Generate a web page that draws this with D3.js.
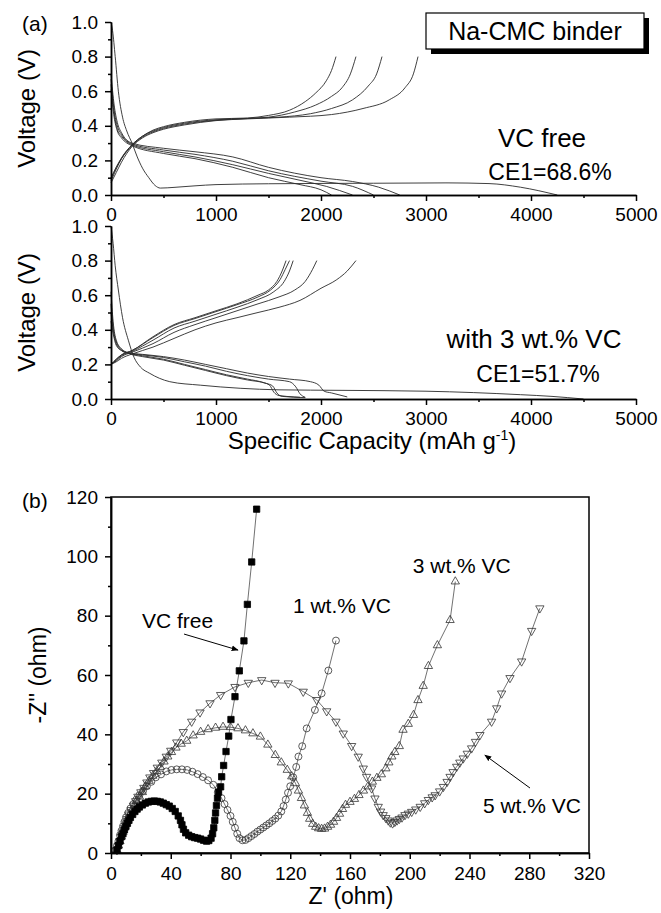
<!DOCTYPE html>
<html>
<head>
<meta charset="utf-8">
<script src="https://cdn.jsdelivr.net/npm/d3@7"></script>
<style>
  body { margin: 0; background: #fff; }
  svg text { font-family: 'Liberation Sans', Arial, sans-serif; fill: #000; }
</style>
</head>
<body>
<svg id="chart" width="661" height="913"></svg>
<script>
// ---- tick values ----
const capacityTicks = [0, 1000, 2000, 3000, 4000, 5000];
const capacityMinor = [500, 1500, 2500, 3500, 4500];
const voltageTicks = [0, 0.2, 0.4, 0.6, 0.8, 1.0];
const voltageMinor = [0.1, 0.3, 0.5, 0.7, 0.9];
const zReTicks = [0, 40, 80, 120, 160, 200, 240, 280, 320];
const zReMinor = [20, 60, 100, 140, 180, 220, 260, 300];
const zImTicks = [0, 20, 40, 60, 80, 100, 120];
const zImMinor = [10, 30, 50, 70, 90, 110];

// ---- (a) top: VC free, [capacity mAh/g, voltage V] ----
const vcFreeFirstDischarge = [[0, 1.0], [15, 0.95], [40, 0.8], [70, 0.6], [110, 0.45], [150, 0.37], [200, 0.3], [250, 0.22], [300, 0.155], [360, 0.1], [420, 0.055], [470, 0.04], [600, 0.044], [800, 0.053], [1000, 0.06], [1500, 0.065], [2500, 0.068], [3200, 0.07], [3600, 0.066], [3900, 0.045], [4250, 0.0]];
const vcFreeDischarges = [
  [[0, 0.7], [30, 0.52], [60, 0.42], [100, 0.36], [200, 0.3], [500, 0.27], [800, 0.25], [1160, 0.22], [1500, 0.16], [2000, 0.1], [2300, 0.078], [2550, 0.045], [2750, 0.0]],
  [[0, 0.67], [30, 0.49], [60, 0.4], [100, 0.35], [200, 0.295], [500, 0.26], [800, 0.235], [1160, 0.195], [1500, 0.14], [2000, 0.08], [2300, 0.05], [2500, 0.0]],
  [[0, 0.64], [30, 0.47], [60, 0.38], [100, 0.34], [200, 0.29], [500, 0.25], [800, 0.22], [1160, 0.175], [1500, 0.125], [1800, 0.085], [2050, 0.05], [2300, 0.0]],
  [[0, 0.61], [30, 0.45], [60, 0.37], [100, 0.33], [200, 0.285], [500, 0.24], [800, 0.21], [1160, 0.16], [1500, 0.1], [1800, 0.06], [2000, 0.03], [2100, 0.0]],
];
const vcFreeCharges = [
  [[0, 0.08], [50, 0.15], [100, 0.21], [200, 0.29], [300, 0.34], [400, 0.375], [500, 0.395], [700, 0.42], [1000, 0.44], [1300, 0.445], [1500, 0.46], [1700, 0.49], [1850, 0.54], [1950, 0.59], [2050, 0.66], [2100, 0.72], [2143, 0.8]],
  [[0, 0.09], [50, 0.16], [100, 0.215], [200, 0.29], [300, 0.34], [400, 0.37], [500, 0.39], [700, 0.415], [1000, 0.435], [1300, 0.443], [1500, 0.45], [1750, 0.48], [1950, 0.52], [2100, 0.57], [2200, 0.62], [2280, 0.7], [2333, 0.8]],
  [[0, 0.1], [50, 0.16], [100, 0.21], [200, 0.285], [300, 0.335], [400, 0.365], [500, 0.385], [700, 0.41], [1000, 0.432], [1300, 0.442], [1600, 0.45], [1900, 0.47], [2100, 0.5], [2300, 0.55], [2450, 0.63], [2530, 0.7], [2581, 0.8]],
  [[0, 0.07], [50, 0.13], [100, 0.19], [200, 0.28], [300, 0.33], [400, 0.36], [500, 0.38], [700, 0.405], [1000, 0.43], [1300, 0.44], [1700, 0.45], [2100, 0.465], [2400, 0.5], [2650, 0.55], [2800, 0.62], [2880, 0.7], [2924, 0.8]],
];

// ---- (a) middle: with 3 wt.% VC ----
const vc3FirstDischarge = [[0, 1.0], [20, 0.9], [40, 0.77], [70, 0.63], [110, 0.47], [165, 0.34], [220, 0.24], [280, 0.185], [370, 0.148], [460, 0.12], [560, 0.1], [850, 0.08], [1230, 0.062], [1600, 0.053], [2200, 0.05], [3000, 0.045], [3900, 0.025], [4200, 0.015], [4500, 0.0]];
const vc3Discharges = [
  [[0, 0.62], [20, 0.45], [50, 0.34], [100, 0.29], [160, 0.268], [300, 0.25], [500, 0.23], [700, 0.2], [900, 0.17], [1100, 0.14], [1300, 0.115], [1450, 0.095], [1510, 0.08], [1550, 0.04], [1600, 0.02], [1750, 0.012], [1800, 0.01]],
  [[0, 0.55], [20, 0.42], [50, 0.33], [100, 0.285], [160, 0.265], [300, 0.245], [500, 0.225], [700, 0.195], [900, 0.165], [1100, 0.135], [1300, 0.11], [1480, 0.09], [1540, 0.075], [1580, 0.035], [1630, 0.015], [1850, 0.008]],
  [[0, 0.5], [20, 0.4], [50, 0.32], [100, 0.28], [160, 0.265], [300, 0.255], [500, 0.24], [700, 0.215], [900, 0.19], [1100, 0.16], [1300, 0.135], [1500, 0.115], [1700, 0.1], [1760, 0.07], [1800, 0.03], [1850, 0.01]],
  [[0, 0.45], [20, 0.38], [50, 0.31], [100, 0.28], [160, 0.268], [300, 0.258], [500, 0.245], [700, 0.225], [900, 0.2], [1100, 0.175], [1300, 0.15], [1500, 0.13], [1700, 0.115], [1900, 0.1], [1980, 0.08], [2030, 0.045], [2100, 0.035], [2250, 0.012]],
];
const vc3Charges = [
  [[0, 0.2], [50, 0.23], [100, 0.255], [200, 0.28], [400, 0.36], [600, 0.43], [800, 0.47], [1000, 0.51], [1200, 0.55], [1400, 0.6], [1500, 0.63], [1580, 0.68], [1630, 0.74], [1667, 0.8]],
  [[0, 0.2], [50, 0.23], [100, 0.255], [200, 0.28], [400, 0.355], [600, 0.425], [800, 0.465], [1000, 0.505], [1200, 0.545], [1400, 0.59], [1520, 0.63], [1610, 0.69], [1660, 0.75], [1700, 0.8]],
  [[0, 0.2], [50, 0.225], [100, 0.25], [200, 0.275], [400, 0.34], [600, 0.41], [800, 0.45], [1000, 0.49], [1200, 0.53], [1400, 0.575], [1550, 0.62], [1650, 0.68], [1700, 0.74], [1735, 0.8]],
  [[0, 0.2], [50, 0.22], [100, 0.245], [200, 0.27], [400, 0.32], [600, 0.385], [800, 0.43], [1000, 0.47], [1200, 0.51], [1400, 0.55], [1600, 0.59], [1750, 0.63], [1850, 0.68], [1920, 0.75], [1960, 0.8]],
  [[0, 0.2], [50, 0.215], [100, 0.235], [200, 0.26], [400, 0.3], [600, 0.35], [800, 0.4], [1000, 0.44], [1200, 0.47], [1400, 0.5], [1600, 0.53], [1800, 0.57], [2000, 0.64], [2150, 0.69], [2250, 0.74], [2333, 0.8]],
];

// ---- (b) Nyquist, [Z' ohm, -Z'' ohm] ----
const eisVcFree = [[4, 1], [5, 2.5], [6, 4], [7, 5.5], [8, 6.5], [9, 7.8], [10, 9], [11, 10], [12, 11], [13, 12], [14.5, 13], [16, 14], [17.5, 14.8], [19, 15.5], [21, 16.2], [23, 16.8], [25, 17.2], [27, 17.4], [29, 17.5], [31, 17.4], [33, 17.2], [35, 16.8], [37, 16.3], [39, 15.8], [41, 15], [43, 14], [45, 12.5], [46.5, 11], [47.5, 9.5], [48.5, 8], [50, 6.8], [52, 6], [54, 5.5], [56, 5.2], [58, 5], [60, 4.7], [62, 4.3], [64, 4], [65.5, 4.2], [67, 5], [68, 6.5], [68.8, 8.5], [69.5, 11], [70, 13.5], [70.6, 16], [71.3, 18.5], [72, 20.5], [73.4, 22.3], [74.1, 25.7], [75.4, 29.5], [77, 34.2], [78.8, 39.4], [80.3, 45], [83, 52.7], [85.9, 61.4], [89, 71.5], [91.3, 83.8], [94.2, 98.1], [97.5, 115.9]];
const eisVc1 = [[3, 1], [4, 2.5], [5, 4], [6, 6], [7, 7.5], [8, 9], [9, 10.5], [10, 12], [11.5, 13.5], [13, 15], [15, 16.5], [17, 18], [19, 19.5], [21.5, 21], [24, 22.5], [27, 24], [30, 25.5], [33.5, 26.5], [37, 27.5], [40.5, 28], [44, 28.2], [47.5, 28.2], [51, 28], [54.5, 27.4], [58, 26.6], [61.5, 25.6], [65, 24.5], [68.5, 23], [71.5, 20.5], [74, 18.5], [76, 16.5], [78, 14.5], [80, 12.5], [81.5, 10.5], [83, 8.5], [84.5, 6.5], [86, 5], [88, 4.3], [90, 4.4], [92, 5], [94, 5.7], [96, 6.4], [98, 7.2], [100, 7.9], [102, 8.6], [104, 9.3], [106, 10], [108, 10.8], [110, 11.6], [112, 12.6], [114, 14], [115.5, 15.8], [117, 18], [118.5, 20.3], [120, 22.5], [122, 25.5], [124, 29], [125.5, 32.5], [128, 36], [131, 42], [136.5, 48.2], [141, 53.8], [145.5, 61.5], [150.6, 71.6]];
const eisVc3 = [[4, 1], [5, 2.5], [6, 4], [7, 5.5], [8, 7], [9, 8.5], [10, 10], [11, 11.5], [12.5, 13], [14, 14.5], [15.5, 16], [17, 17.5], [19, 19], [21, 20.5], [23, 22.5], [25.5, 24.3], [28, 26], [30.6, 27.6], [33, 29], [35.5, 30.8], [38, 32.5], [40.5, 34], [43.5, 35.5], [47, 36.8], [50.7, 37.8], [55, 39.6], [60, 40.8], [65, 41.7], [70, 42.2], [75, 42.5], [80, 42.4], [85, 42], [90, 41.3], [95, 40.3], [100, 39.2], [105, 36.5], [110, 33], [114, 30.5], [118, 28], [121, 25.8], [123.5, 23.5], [125.5, 21], [127.5, 18.5], [129.5, 16], [131.5, 13.5], [133, 11.5], [135, 9.8], [137, 8.8], [139, 8.3], [141, 8.1], [143, 8.2], [145, 8.8], [147, 9.5], [149, 10.5], [151, 11.8], [153, 13.2], [155, 14.8], [157, 16.2], [160, 17.2], [163, 18.2], [166, 19.5], [169, 21], [172, 22.4], [175, 24], [178, 25.3], [181, 26.5], [184, 28.5], [186, 30.5], [188, 32.5], [190, 34], [193, 36], [195.5, 41.5], [199, 43.5], [202.5, 46.5], [205.5, 51.5], [209, 56.3], [212.5, 63], [218.5, 70], [227, 78.5], [230.5, 91.5]];
const eisVc5 = [[4, 1], [5, 2.5], [6, 4], [7, 5.5], [8, 7], [9, 8.5], [10, 10], [11, 11.5], [12, 13], [13.5, 14.5], [15, 16], [16.5, 17.5], [18, 19], [20, 20.5], [22, 22], [24, 23.8], [26, 25.5], [28.5, 27], [31, 28.8], [34, 30.5], [37, 32.5], [40, 34.5], [44, 37.3], [48.4, 40.8], [54, 44.3], [59.6, 47.4], [66.3, 50.5], [73.4, 53.3], [83, 56], [91.9, 57.4], [100.9, 58.3], [109.8, 57.4], [118.7, 57.2], [128.7, 54.4], [137.7, 51.6], [144.4, 47.8], [150.6, 44.3], [155.5, 40.3], [161.1, 36.1], [165.5, 32.5], [168.9, 28.5], [171.1, 25.7], [174.5, 21.8], [176.7, 18.4], [178.9, 15.6], [180.5, 14], [182.2, 12.8], [184, 11.8], [185.6, 11], [187, 10.3], [188.5, 10], [190, 10.5], [191.5, 11], [193, 11.5], [194.8, 12], [196.8, 12.8], [199, 13.3], [201.3, 13.9], [204, 14.7], [207, 15.6], [210, 16.8], [212.4, 17.9], [215, 18.8], [217, 19.5], [220, 20.8], [222.5, 22.3], [225, 24], [227, 25.7], [229, 27.3], [231.4, 29.1], [233.5, 30.5], [235.8, 31.9], [238.5, 33.5], [241.4, 35.3], [244, 37.5], [247, 39.8], [254.8, 44.3], [258.2, 48.8], [261.5, 53.8], [267.1, 59], [274.9, 64.6], [281.6, 74.9], [287.1, 82.5]];

const font = "'Liberation Sans', Arial, sans-serif";
const svg = d3.select('#chart');

function styleAxis(g, size) {
  g.attr('font-family', font).attr('font-size', size);
  g.select('.domain').attr('stroke', '#000').attr('stroke-width', 1.5);
  g.selectAll('.tick line').attr('stroke', '#000').attr('stroke-width', 1.5);
  g.selectAll('.tick text').attr('fill', '#000');
}

function drawAxes(x, y, xMajor, xMinor, yMajor, yMinor, xFormat, yFormat, xLabelPad) {
  const xAxisY = y.range()[0];
  const yAxisX = x.range()[0];
  svg.append('g').attr('transform', `translate(0,${xAxisY})`)
    .call(d3.axisBottom(x).tickValues(xMinor).tickSize(3).tickSizeOuter(0).tickFormat(''))
    .call(g => styleAxis(g, 19));
  svg.append('g').attr('transform', `translate(0,${xAxisY})`)
    .call(d3.axisBottom(x).tickValues(xMajor).tickSize(6).tickSizeOuter(0).tickPadding(xLabelPad).tickFormat(xFormat))
    .call(g => styleAxis(g, 19));
  svg.append('g').attr('transform', `translate(${yAxisX},0)`)
    .call(d3.axisLeft(y).tickValues(yMinor).tickSize(3).tickSizeOuter(0).tickFormat(''))
    .call(g => styleAxis(g, 19));
  svg.append('g').attr('transform', `translate(${yAxisX},0)`)
    .call(d3.axisLeft(y).tickValues(yMajor).tickSize(6).tickSizeOuter(0).tickPadding(7).tickFormat(yFormat))
    .call(g => styleAxis(g, 19));
}

function drawVoltagePanel(top, bottom, curves) {
  const x = d3.scaleLinear().domain([0, 5000]).range([111, 636]);
  const y = d3.scaleLinear().domain([0, 1]).range([bottom, top]);
  const line = d3.line()
    .x(d => x(d[0]))
    .y(d => y(d[1]))
    .curve(d3.curveMonotoneX);

  svg.append('g')
    .selectAll('path')
    .data(curves)
    .enter()
    .append('path')
    .attr('d', line)
    .attr('fill', 'none')
    .attr('stroke', '#2a2a2a')
    .attr('stroke-width', 0.9);

  drawAxes(x, y, capacityTicks, capacityMinor, voltageTicks, voltageMinor, d3.format('d'), d3.format('.1f'), 6.5);

  svg.append('text')
    .attr('transform', `translate(35,${(top + bottom) / 2}) rotate(-90)`)
    .attr('text-anchor', 'middle')
    .attr('font-size', 24)
    .text('Voltage (V)');
}

drawVoltagePanel(22, 195, [vcFreeFirstDischarge, ...vcFreeDischarges, ...vcFreeCharges]);
drawVoltagePanel(226, 399, [vc3FirstDischarge, ...vc3Discharges, ...vc3Charges]);

// panel (a) annotations
svg.append('text').attr('x', 22).attr('y', 31).attr('font-size', 21).text('(a)');

svg.append('rect').attr('x', 431).attr('y', 18).attr('width', 218).attr('height', 36).attr('fill', '#000');
svg.append('rect').attr('x', 426).attr('y', 13).attr('width', 218).attr('height', 36)
  .attr('fill', '#fff').attr('stroke', '#000').attr('stroke-width', 1.2);
svg.append('text').attr('x', 535).attr('y', 40).attr('text-anchor', 'middle')
  .attr('font-size', 25).text('Na-CMC binder');

svg.append('text').attr('x', 542).attr('y', 147).attr('text-anchor', 'middle').attr('font-size', 26).text('VC free');
svg.append('text').attr('x', 550).attr('y', 180).attr('text-anchor', 'middle').attr('font-size', 23).text('CE1=68.6%');
svg.append('text').attr('x', 534).attr('y', 348).attr('text-anchor', 'middle').attr('font-size', 26).text('with 3 wt.% VC');
svg.append('text').attr('x', 538).attr('y', 382).attr('text-anchor', 'middle').attr('font-size', 23).text('CE1=51.7%');

const capLabel = svg.append('text').attr('x', 372).attr('y', 449).attr('text-anchor', 'middle').attr('font-size', 24);
capLabel.append('tspan').text('Specific Capacity (mAh g');
capLabel.append('tspan').attr('dy', -9).attr('font-size', 14).text('-1');
capLabel.append('tspan').attr('dy', 9).text(')');

// ---- panel (b) ----
function drawImpedancePanel() {
  const x = d3.scaleLinear().domain([0, 320]).range([111, 589]);
  const y = d3.scaleLinear().domain([0, 120]).range([853, 497]);
  const line = d3.line().x(d => x(d[0])).y(d => y(d[1]));

  const series = [
    { data: eisVc5, symbol: d3.symbolTriangle, size: 30, rotate: 180, fill: 'none' },
    { data: eisVc3, symbol: d3.symbolTriangle, size: 30, rotate: 0, fill: 'none' },
    { data: eisVc1, symbol: d3.symbolCircle, size: 38, rotate: 0, fill: 'none' },
    { data: eisVcFree, symbol: d3.symbolSquare, size: 40, rotate: 0, fill: '#000' },
  ];

  series.forEach((s) => {
    const g = svg.append('g');
    g.append('path')
      .attr('d', line(s.data))
      .attr('fill', 'none')
      .attr('stroke', '#333')
      .attr('stroke-width', 0.7);
    g.selectAll('path.pt')
      .data(s.data)
      .enter()
      .append('path')
      .attr('class', 'pt')
      .attr('d', d3.symbol().type(s.symbol).size(s.size))
      .attr('transform', d => `translate(${x(d[0])},${y(d[1])}) rotate(${s.rotate})`)
      .attr('fill', s.fill)
      .attr('stroke', s.fill === 'none' ? '#333' : '#000')
      .attr('stroke-width', 0.8);
  });

  svg.append('rect')
    .attr('x', 111).attr('y', 497).attr('width', 589 - 111).attr('height', 853 - 497)
    .attr('fill', 'none').attr('stroke', '#000').attr('stroke-width', 1.5);

  drawAxes(x, y, zReTicks, zReMinor, zImTicks, zImMinor, d3.format('d'), d3.format('d'), 7.5);

  // labels and arrows in data coordinates
  svg.append('defs').append('marker')
    .attr('id', 'arrow')
    .attr('viewBox', '0 0 10 10')
    .attr('refX', 9).attr('refY', 5)
    .attr('markerWidth', 7).attr('markerHeight', 7)
    .attr('orient', 'auto')
    .append('path').attr('d', 'M0,1 L10,5 L0,9 Z').attr('fill', '#000');

  const arrows = [[[48.9, 73.8], [85, 68.4]], [[280.5, 21.9], [250.3, 33.0]]];
  svg.selectAll('line.arrow')
    .data(arrows)
    .enter()
    .append('line')
    .attr('class', 'arrow')
    .attr('x1', d => x(d[0][0])).attr('y1', d => y(d[0][1]))
    .attr('x2', d => x(d[1][0])).attr('y2', d => y(d[1][1]))
    .attr('stroke', '#000').attr('stroke-width', 1)
    .attr('marker-end', 'url(#arrow)');

  const labels = [
    { text: 'VC free', at: [20.7, 75.8] },
    { text: '1 wt.% VC', at: [121.8, 80.9] },
    { text: '3 wt.% VC', at: [202, 94.4] },
    { text: '5 wt.% VC', at: [249, 13.5] },
  ];
  svg.selectAll('text.series-label')
    .data(labels)
    .enter()
    .append('text')
    .attr('class', 'series-label')
    .attr('x', d => x(d.at[0]))
    .attr('y', d => y(d.at[1]))
    .attr('font-size', 21)
    .text(d => d.text);

  svg.append('text').attr('x', 22).attr('y', 508).attr('font-size', 21).text('(b)');
  svg.append('text').attr('x', 351).attr('y', 904).attr('text-anchor', 'middle').attr('font-size', 23).text("Z' (ohm)");
  svg.append('text')
    .attr('transform', `translate(46,${(497 + 853) / 2}) rotate(-90)`)
    .attr('text-anchor', 'middle')
    .attr('font-size', 23)
    .text("-Z'' (ohm)");
}

drawImpedancePanel();
</script>
</body>
</html>
